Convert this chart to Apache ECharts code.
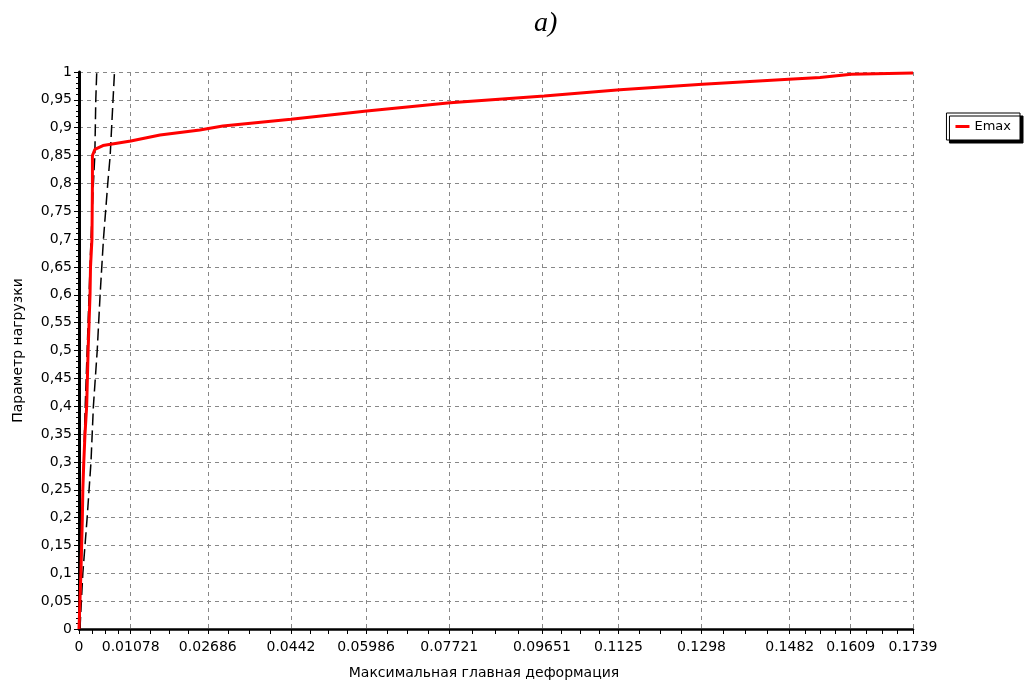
<!DOCTYPE html>
<html>
<head>
<meta charset="utf-8">
<script src="https://cdn.jsdelivr.net/npm/echarts@6/dist/echarts.min.js"></script>
<style>
html,body{margin:0;padding:0;background:#fff;}
#chart{width:1030px;height:687px;}
</style>
</head>
<body>
<div id="chart"></div>
<script>
// Tick labels
const xTickLabels = ['0','0.01078','0.02686','0.0442','0.05986','0.07721','0.09651','0.1125','0.1298','0.1482','0.1609','0.1739'];
const yMin = 0, yMax = 1, yStep = 0.05;

// Emax series (red)
const emaxX = [0, 0.0002, 0.0004, 0.0007, 0.0008, 0.001, 0.00125, 0.0016, 0.0019, 0.0021, 0.0023, 0.0024, 0.0027, 0.0028, 0.0028, 0.0033, 0.005, 0.0108, 0.0169, 0.0252, 0.030, 0.0442, 0.06, 0.0774, 0.097, 0.1128, 0.130, 0.148, 0.1545, 0.161, 0.1739];
const emaxY = [0, 0.05, 0.1, 0.2, 0.25, 0.3, 0.35, 0.4, 0.5, 0.55, 0.6, 0.65, 0.7, 0.8, 0.85, 0.861, 0.868, 0.876, 0.887, 0.896, 0.903, 0.915, 0.930, 0.945, 0.957, 0.968, 0.978, 0.987, 0.990, 0.996, 0.998];

// Dashed bound lines (black)
const boundLeftX = [0, 0.0004, 0.0008, 0.0013, 0.0019, 0.0025, 0.003, 0.0033, 0.0034, 0.0035, 0.0037];
const boundLeftY = [0, 0.1, 0.25, 0.4, 0.55, 0.7, 0.8, 0.85, 0.9, 0.95, 1];
const boundRightX = [0.0002, 0.0008, 0.0017, 0.0025, 0.003, 0.0038, 0.0044, 0.0051, 0.006, 0.0065, 0.0068, 0.0074];
const boundRightY = [0, 0.1, 0.2, 0.3, 0.4, 0.5, 0.6, 0.7, 0.8, 0.85, 0.9, 1];

const xMajor = xTickLabels.map(Number);
const xMinor = [];
for (let i = 0; i < xMajor.length - 1; i++) {
  for (let k = 1; k < 4; k++) xMinor.push(xMajor[i] + (xMajor[i+1] - xMajor[i]) * k / 4);
}
const zip = (a, b) => a.map((v, i) => [v, b[i]]);

const font = '"DejaVu Sans", sans-serif';
const chart = echarts.init(document.getElementById('chart'));
chart.setOption({
  animation: false,
  backgroundColor: '#fff',
  title: {
    text: 'a)', left: 529, top: 5,
    textStyle: {fontFamily: '"Liberation Serif", serif', fontStyle: 'italic', fontWeight: 'normal', fontSize: 28, color: '#000'}
  },
  legend: {
    data: ['Emax'], right: 10, top: 113, orient: 'vertical',
    backgroundColor: '#fff', borderColor: '#000', borderWidth: 1, borderRadius: 0,
    padding: [7, 9, 7, 9],
    shadowColor: '#000', shadowOffsetX: 3, shadowOffsetY: 3, shadowBlur: 0,
    itemWidth: 14, itemHeight: 3, itemGap: 4,
    icon: 'rect',
    textStyle: {fontFamily: font, fontSize: 13, color: '#000'}
  },
  grid: {left: 79, right: 117, top: 72, bottom: 58, containLabel: false},
  xAxis: [{
    type: 'value', min: 0, max: 0.1739,
    name: 'Максимальная главная деформация', nameLocation: 'middle', nameGap: 37,
    nameTextStyle: {fontFamily: font, fontSize: 14, color: '#000', padding: [0, 24, 0, 0]},
    axisLine: {show: true, lineStyle: {color: '#000', width: 2.5}},
    axisTick: {show: true, length: 5, customValues: xMajor, lineStyle: {color: '#000'}},
    axisLabel: {customValues: xMajor, fontFamily: font, fontSize: 14, color: '#000', margin: 11,
      formatter: v => { const i = xMajor.indexOf(v); return i >= 0 ? xTickLabels[i] : ''; }},
    splitLine: {show: true, lineStyle: {color: '#888', type: [4, 4], width: 1}}
  }, {
    type: 'value', min: 0, max: 0.1739, position: 'bottom',
    axisLine: {show: false},
    axisTick: {show: true, length: 5, customValues: xMinor, lineStyle: {color: '#000'}},
    axisLabel: {show: false},
    splitLine: {show: false}
  }],
  yAxis: {
    type: 'value', min: yMin, max: yMax, interval: yStep,
    name: 'Параметр нагрузки', nameLocation: 'middle', nameGap: 54, nameRotate: 90,
    nameTextStyle: {fontFamily: font, fontSize: 14, color: '#000'},
    axisLine: {show: true, lineStyle: {color: '#000', width: 3}},
    axisTick: {show: true, length: 5, lineStyle: {color: '#000'}},
    minorTick: {show: true, splitNumber: 5, length: 3, lineStyle: {color: '#000'}},
    axisLabel: {fontFamily: font, fontSize: 14, color: '#000', margin: 7,
      formatter: v => String(+v.toFixed(2)).replace('.', ',')},
    splitLine: {show: true, lineStyle: {color: '#888', type: [4, 4], width: 1}}
  },
  series: [{
    name: 'bound1', type: 'line', data: zip(boundLeftX, boundLeftY), showSymbol: false, z: 3,
    lineStyle: {color: '#000', width: 1.5, type: [12, 5]}
  }, {
    name: 'bound2', type: 'line', data: zip(boundRightX, boundRightY), showSymbol: false, z: 3,
    lineStyle: {color: '#000', width: 1.5, type: [12, 5]}
  }, {
    name: 'Emax', type: 'line', data: zip(emaxX, emaxY), showSymbol: false, z: 4,
    color: '#ff0000',
    lineStyle: {color: '#ff0000', width: 3}
  }]
});
</script>
</body>
</html>
